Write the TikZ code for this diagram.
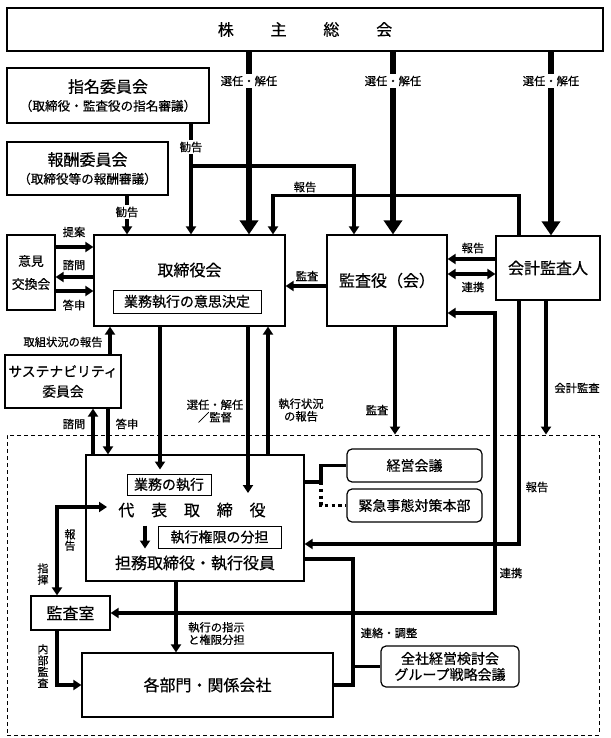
\documentclass[tikz,border=0pt]{standalone}
\usepackage{fontspec}
\setmainfont{Noto Sans CJK JP}[RawFeature={embolden=0.5}]
\usepackage{tikz}
\usetikzlibrary{shapes,arrows,arrows.meta,fit,positioning}
\def\fntL{\fontsize{16}{18}\selectfont}
\def\fntM{\fontsize{14}{16}\selectfont}
\def\fntT{\fontsize{12.6}{15}\selectfont}
\def\fntS{\fontsize{11.3}{12.5}\selectfont}
\def\fntV{\fontsize{11}{11.3}\selectfont}

\begin{document}
\begin{tikzpicture}[x=1pt,y=-1pt,% pixel grid, y runs downwards
			every node/.style={align=center, inner sep=0pt},
			box/.style={rectangle, draw=black, line width=1.2pt, fill=white, font=\fntL},
			rbox/.style={box, rounded corners=5pt, font=\fntM},
			ibox/.style={rectangle, draw=black, line width=1pt, font=\fntM},
			lbl/.style={font=\fntS},
			wlbl/.style={lbl, fill=white, inner sep=1.5pt},
			vlbl/.style={font=\fntV},
			thk/.style={draw, line width=3.2pt},
			arr/.style={thk, -{Triangle[length=8pt,width=10pt]}},
			darr/.style={thk, {Triangle[length=8pt,width=10pt]}-{Triangle[length=8pt,width=10pt]}},
			bigarr/.style={draw, line width=6.5pt, -{Triangle[length=14pt,width=18pt]}},
			dotline/.style={draw, line width=3.2pt, dash pattern=on 3.2pt off 3.6pt}
		]
		\useasboundingbox (0,0) rectangle (610,738);

		% execution area (dashed)
		\node[draw, line width=0.9pt, dash pattern=on 4pt off 3pt, minimum width=592pt, minimum height=300pt](Rg) at (303,585) {};

		% boxes
		\node[box, minimum width=596pt, minimum height=43pt](R1) at (305,29.5) {株\hspace{2.3em}主\hspace{2.3em}総\hspace{2.3em}会};
		\node[box, minimum width=202pt, minimum height=55pt](R2) at (108,95.5) {指名委員会\\{\fntT （取締役・監査役の指名審議）}};
		\node[box, minimum width=161pt, minimum height=53pt](R3) at (87.5,168.5) {報酬委員会\\{\fntT （取締役等の報酬審議）}};
		\node[box, font=\fontsize{12.8}{23}\selectfont, minimum width=48pt, minimum height=75pt](R4) at (31,272.5) {意見\\交換会};
		\node[box, minimum width=191pt, minimum height=91pt](R5) at (189.5,280.5) {};
		\node[font=\fntL](R5t) at (189.5,270) {取締役会};
		\node[ibox, minimum width=148pt, minimum height=23pt](R5a) at (187,301.5) {業務執行の意思決定};
		\node[box, minimum width=120pt, minimum height=91pt](R6) at (387,280.5) {監査役（会）};
		\node[box, minimum width=104pt, minimum height=64pt](R7) at (548,268) {会計監査人};
		\node[box, font=\fontsize{13.8}{20}\selectfont, minimum width=116pt, minimum height=53pt](R8) at (63,381.5) {サステナビリティ\\委員会};

		\node[box, minimum width=218pt, minimum height=126pt](R10) at (195,518) {};
		\node[ibox, minimum width=84pt, minimum height=21pt](R10a) at (169,484.5) {業務の執行};
		\node[font=\fntL](R10b) at (192,510) {代\hspace{1.05em}表\hspace{1.05em}取\hspace{1.05em}締\hspace{1.05em}役};
		\node[ibox, minimum width=123pt, minimum height=22pt](R10c) at (219.5,537) {執行権限の分担};
		\node[font=\fntL](R10d) at (195,563) {担務取締役・執行役員};
		\node[rbox, minimum width=135pt, minimum height=33pt](R11) at (414.5,465.5) {経営会議};
		\node[rbox, minimum width=135pt, minimum height=33pt](R12) at (414.5,505.5) {緊急事態対策本部};
		\node[box, minimum width=79pt, minimum height=34pt](R13) at (70.5,613) {監査室};
		\node[box, minimum width=251pt, minimum height=64pt](R14) at (207.5,685) {各部門・関係会社};
		\node[rbox, minimum width=138pt, minimum height=41pt](R15) at (450,666.5) {全社経営検討会\\グループ戦略会議};

		\coordinate (c1) at (191,166);
		\coordinate (c3) at (248,493);
		\coordinate (c4) at (107,507);

		% shareholders
		\draw[bigarr] (249,0 |- R1.south) -- (249,0 |- R5.north);
		\draw[bigarr] (393,0 |- R1.south) -- (393,0 |- R6.north);
		\draw[bigarr] (551,0 |- R1.south) -- (551,0 |- R7.north);

		% board level
		\draw[arr] (191,0 |- R2.south) -- (191,0 |- R5.north);
		\draw[arr] (c1) -| (354,0 |- R6.north);
		\draw[arr] (127,0 |- R3.south) -- (127,0 |- R5.north);
		\draw[arr] (519,0 |- R7.north) -- ++(0,-40) -| (273,0 |- R5.north);
		\draw[arr] (R4.east |- 0,247) -- (R5.west |- 0,247);
		\draw[arr] (R5.west |- 0,277) -- (R4.east |- 0,277);
		\draw[arr] (R4.east |- 0,291) -- (R5.west |- 0,291);
		\draw[arr] (R6.west |- 0,286) -- (R5.east |- 0,286);
		\draw[arr] (R7.west |- 0,259) -- (R6.east |- 0,259);
		\draw[darr] (R6.east |- 0,274) -- (R7.west |- 0,274);
		\draw[darr] (R13.east) -| (495,313) -- (R6.east |- 0,313);
		\draw[arr] (519,0 |- R7.south) |- (R10.east |- 0,544);
		\draw[arr] (546,0 |- R7.south) -- (546,0 |- Rg.north);
		\draw[arr] (395,0 |- R6.south) -- (395,0 |- Rg.north);
		\draw[arr] (110,0 |- R8.north) -- (110,0 |- R5.south);
		\draw[arr] (93,0 |- R10.north) -- (93,0 |- R8.south);
		\draw[arr] (108,0 |- R8.south) -- (108,0 |- R10.north);
		\draw[arr, shorten >=4pt] (160,0 |- R5.south) -- (160,0 |- R10a.north);
		\draw[arr] (248,0 |- R5.south) -- (c3);
		\draw[arr] (268,0 |- R10.north) -- (268,0 |- R5.south);

		% execution level
		\draw[thk] (R10.east |- 0,482) -- (321,482) |- (R11.west);
		\draw[dotline] (321,482) |- (R12.west);
		\draw[darr] (57,0 |- R13.north) |- (c4);
		\draw[arr] (145,0 |- R10c.north) -- (145,0 |- R10c.south);
		\draw[arr] (57,0 |- R13.south) |- (R14.west);
		\draw[arr] (176,0 |- R10.south) -- (176,0 |- R14.north);
		\draw[thk] (R10.east |- 0,559) -| (353,0 |- R14.east) -- (R14.east);
		\draw[thk] (353,0 |- R15.west) -- (R15.west);

		% labels
		\node[wlbl](L1) at (249,81) {選任・解任};
		\node[wlbl](L2) at (393,81) {選任・解任};
		\node[wlbl](L3) at (551,81) {選任・解任};
		\node[wlbl](L4) at (191,147) {勧告};
		\node[wlbl](L5) at (127,212) {勧告};
		\node[lbl](L6) at (305,187) {報告};
		\node[lbl](L7) at (74,232) {提案};
		\node[lbl](L8) at (74,265) {諮問};
		\node[lbl](L9) at (74,305) {答申};
		\node[lbl](L10) at (473,248) {報告};
		\node[lbl](L11) at (473,287) {連携};
		\node[lbl](L12) at (307,276) {監査};
		\node[lbl](L13) at (63,342) {取組状況の報告};
		\node[lbl](L14) at (215,411) {選任・解任\\／監督};
		\node[lbl](L15) at (301,410) {執行状況\\の報告};
		\node[lbl](L16) at (377,410) {監査};
		\node[lbl](L17) at (577,388) {会計監査};
		\node[lbl](L18) at (74,424) {諮問};
		\node[lbl](L19) at (127,424) {答申};
		\node[lbl](L20) at (537,487) {報告};
		\node[lbl](L21) at (511,573) {連携};
		\node[vlbl](L22) at (70,540) {報\\告};
		\node[vlbl](L23) at (43,574) {指\\揮};
		\node[vlbl](L24) at (43,666) {内\\部\\監\\査};
		\node[lbl, align=left, anchor=west](L25) at (188,633.5) {執行の指示\\と権限分担};
		\node[lbl](L26) at (389,633) {連絡・調整};
	\end{tikzpicture}
\end{document}
